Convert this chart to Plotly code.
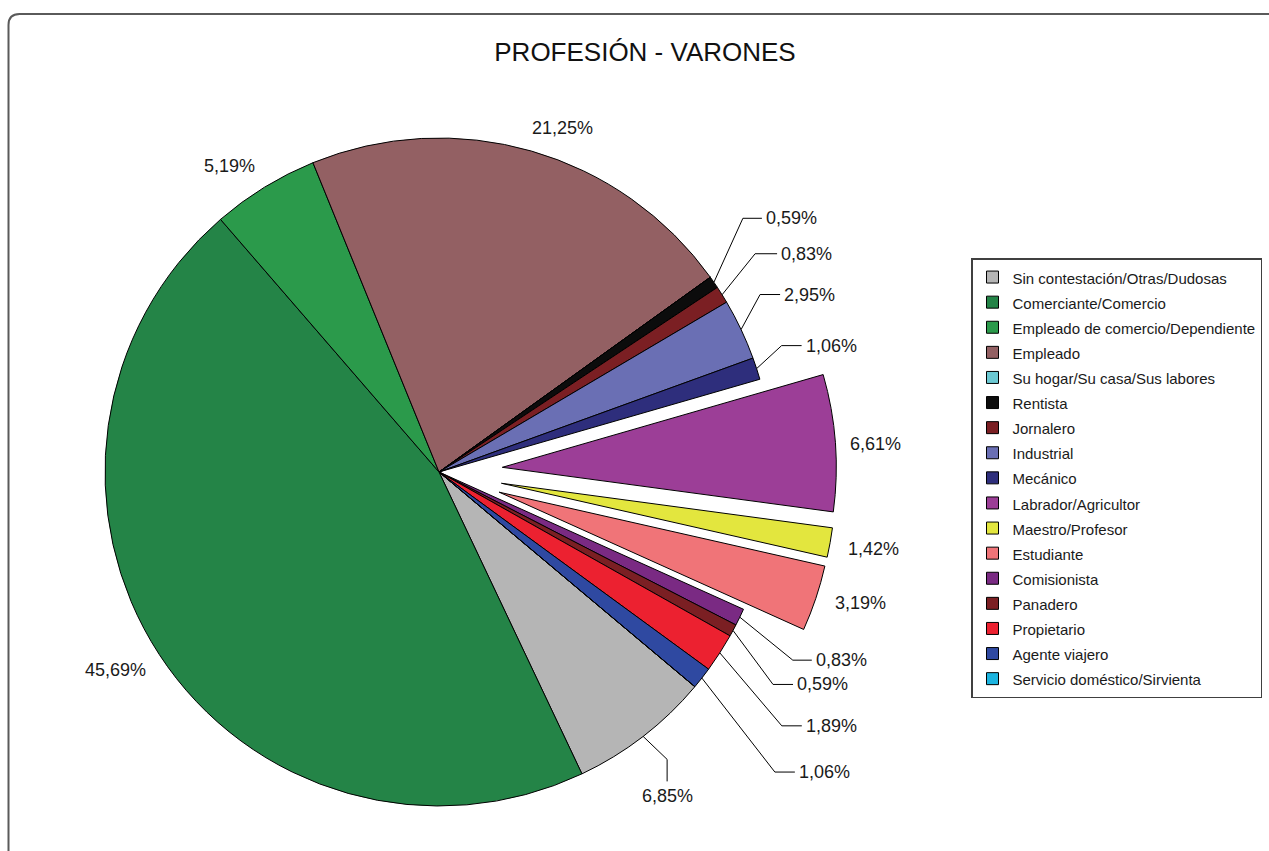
import math
import plotly.graph_objects as go

# ---------------- data ----------------
CATEGORIES = [
    "Sin contestación/Otras/Dudosas",
    "Comerciante/Comercio",
    "Empleado de comercio/Dependiente",
    "Empleado",
    "Su hogar/Su casa/Sus labores",
    "Rentista",
    "Jornalero",
    "Industrial",
    "Mecánico",
    "Labrador/Agricultor",
    "Maestro/Profesor",
    "Estudiante",
    "Comisionista",
    "Panadero",
    "Propietario",
    "Agente viajero",
    "Servicio doméstico/Sirvienta",
]
PERCENTS = [6.85, 45.69, 5.19, 21.25, 0.0, 0.59, 0.83, 2.95, 1.06,
            6.61, 1.42, 3.19, 0.83, 0.59, 1.89, 1.06, 0.0]
TITLE = "PROFESIÓN - VARONES"

# ---------------- style ----------------
COLORS = ["#b5b5b5", "#248447", "#2b9a4b", "#936063", "#6cc9d3", "#0c0c0c",
          "#7b1f23", "#6a6fb4", "#2e2e7c", "#9c3e97", "#e3e63e", "#f07478",
          "#7a2a83", "#7b1f23", "#ec2130", "#2f49a1", "#1cb4e0"]
FONT = "Liberation Sans, Arial, sans-serif"
W, H = 1269, 851
CX, CY, R = 439, 472, 334          # pie centre / radius in px
ROTATION = 130                     # start angle, clockwise from 12 o'clock
EXPLODE = {9: 0.19, 10: 0.19, 11: 0.19}
TRANSP = "rgba(0,0,0,0)"

# label placement (px offsets relative to slice anchor on the rim)
PLAIN_LABELS = {3: (31, -23), 2: (-35, -21), 1: (-44, 16),
                9: (40, 1), 10: (43, 6), 11: (45, 5)}
LEADER_LABELS = {5: (29, -64, 19), 6: (33, -41, 22), 7: (19, -35, 20),
                 8: (25, -23, 20), 12: (53, 43, 19), 13: (40, 54, 20),
                 14: (62, 73, 20), 15: (73, 94, 20)}
VERTICAL_LEADER = {0: (24, 23, 22)}


def px(x, y):
    return x / W, 1 - y / H


def domain_for(cx, cy, r):
    return dict(x=[(cx - r) / W, (cx + r) / W], y=[1 - (cy + r) / H, 1 - (cy - r) / H])


total = sum(PERCENTS)
mid_angles = []
acc = 0.0
for v in PERCENTS:
    mid_angles.append(ROTATION + (acc + v / 2) / total * 360.0)
    acc += v


def unit(theta_deg):
    t = math.radians(theta_deg)
    return math.sin(t), -math.cos(t)


def fmt(v):
    return f"{v:.2f}".replace(".", ",") + "%"


legend_labels = [f'<span style="font-size:15px">{c}</span>' for c in CATEGORIES]

fig = go.Figure()

# legend-carrying trace (tiny, hidden beneath main pie)
hx, hy = CX - 140, CY + 90
fig.add_trace(go.Pie(
    labels=legend_labels, values=PERCENTS, sort=False, direction="clockwise",
    rotation=ROTATION, textinfo="none", hoverinfo="skip",
    marker=dict(colors=COLORS, line=dict(color="#000000", width=1)),
    domain=domain_for(hx, hy, 0.5), showlegend=True,
))

# main pie (exploded slices left empty)
main_colors = [TRANSP if i in EXPLODE else c for i, c in enumerate(COLORS)]
main_lw = [0 if i in EXPLODE else 1 for i in range(len(COLORS))]
fig.add_trace(go.Pie(
    labels=legend_labels, values=PERCENTS, sort=False, direction="clockwise",
    rotation=ROTATION, textinfo="none",
    customdata=CATEGORIES, hovertemplate="%{customdata}: %{value:.2f}%<extra></extra>",
    marker=dict(colors=main_colors, line=dict(color="#000000", width=main_lw)),
    domain=domain_for(CX, CY, R), showlegend=False,
))

# exploded slices, each as its own pie shifted along its bisector
shifts = {}
for idx, pull in EXPLODE.items():
    ux, uy = unit(mid_angles[idx])
    sx, sy = pull * R * ux, pull * R * uy
    shifts[idx] = (sx, sy)
    cols = [c if i == idx else TRANSP for i, c in enumerate(COLORS)]
    lws = [1 if i == idx else 0 for i in range(len(COLORS))]
    fig.add_trace(go.Pie(
        labels=legend_labels, values=PERCENTS, sort=False, direction="clockwise",
        rotation=ROTATION, textinfo="none",
        customdata=CATEGORIES, hovertemplate="%{customdata}: %{value:.2f}%<extra></extra>",
        marker=dict(colors=cols, line=dict(color="#000000", width=lws)),
        domain=domain_for(CX + sx, CY + sy, R), showlegend=False,
    ))

annotations = []
shapes = []
lab_font = dict(family=FONT, size=18, color="#1a1a1a")


def anchor(i):
    ux, uy = unit(mid_angles[i])
    sx, sy = shifts.get(i, (0, 0))
    return CX + sx + R * ux, CY + sy + R * uy


for i, (dx, dy) in PLAIN_LABELS.items():
    ax, ay = anchor(i)
    x, y = px(ax + dx, ay + dy)
    annotations.append(dict(x=x, y=y, xref="paper", yref="paper", text=fmt(PERCENTS[i]),
                            showarrow=False, xanchor="center", yanchor="middle", font=lab_font))

for i, (dx, dy, tail) in LEADER_LABELS.items():
    ax, ay = anchor(i)
    ex, ey = ax + dx, ay + dy
    p0, p1, p2 = px(ax, ay), px(ex, ey), px(ex + tail, ey)
    shapes.append(dict(type="path", xref="paper", yref="paper",
                       path=f"M{p0[0]},{p0[1]} L{p1[0]},{p1[1]} L{p2[0]},{p2[1]}",
                       line=dict(color="#000000", width=1)))
    tx, ty = px(ex + tail + 2, ey)
    annotations.append(dict(x=tx, y=ty, xref="paper", yref="paper", text=fmt(PERCENTS[i]),
                            showarrow=False, xanchor="left", yanchor="middle", font=lab_font))

for i, (dx, dy, tail) in VERTICAL_LEADER.items():
    ax, ay = anchor(i)
    ex, ey = ax + dx, ay + dy
    p0, p1, p2 = px(ax, ay), px(ex, ey), px(ex, ey + tail)
    shapes.append(dict(type="path", xref="paper", yref="paper",
                       path=f"M{p0[0]},{p0[1]} L{p1[0]},{p1[1]} L{p2[0]},{p2[1]}",
                       line=dict(color="#000000", width=1)))
    tx, ty = px(ex, ey + tail + 15)
    annotations.append(dict(x=tx, y=ty, xref="paper", yref="paper", text=fmt(PERCENTS[i]),
                            showarrow=False, xanchor="center", yanchor="middle", font=lab_font))

# chart frame with rounded corner
f0 = px(8.5, H + 10)
f1 = px(8.5, 25)
fc = px(8.5, 14)
f2 = px(19.5, 14)
f3 = px(W + 10, 14)
shapes.append(dict(type="path", xref="paper", yref="paper", layer="below",
                   path=(f"M{f0[0]},{f0[1]} L{f1[0]},{f1[1]} Q{fc[0]},{fc[1]} {f2[0]},{f2[1]} "
                         f"L{f3[0]},{f3[1]}"),
                   line=dict(color="#5a5a5a", width=2)))

lx, ly = px(971, 258)
fig.update_layout(
    width=W, height=H, autosize=False,
    margin=dict(l=0, r=0, t=0, b=0, pad=0),
    paper_bgcolor="white", plot_bgcolor="white",
    font=dict(family=FONT, color="#1a1a1a"),
    title=dict(text=TITLE, x=645 / W, y=1 - 52 / H, xanchor="center", yanchor="middle",
               xref="paper", yref="container",
               font=dict(family=FONT, size=26, color="#111111")),
    legend=dict(x=lx, y=ly, xanchor="left", yanchor="top",
                bgcolor="white", bordercolor="#404040", borderwidth=1.5,
                font=dict(family=FONT, size=17, color="#1a1a1a"),
                traceorder="normal"),
    annotations=annotations,
    shapes=shapes,
)

fig.write_html("out.html", config={"displayModeBar": False},
               post_script="document.body.style.margin='0';document.body.style.overflow='hidden';")
